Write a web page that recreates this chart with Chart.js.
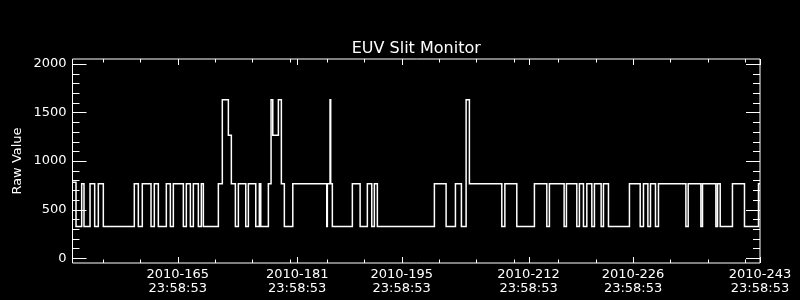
<!DOCTYPE html>
<html>
<head>
<meta charset="utf-8">
<title>EUV Slit Monitor</title>
<script src="https://cdn.jsdelivr.net/npm/chart.js@4"></script>
<style>
  body { margin: 0; background: #000; }
  canvas { display: block; }
</style>
</head>
<body>
<canvas id="euvchart" width="800" height="300"></canvas>
<script>
/* global Chart*/
'use strict';

// switch times (day of year 2010) and the raw value held from each one on
var times = [
  150.90, 151.37, 152.13, 152.44, 153.25, 153.87, 154.36, 155.03, 159.18, 159.72,
  160.25, 161.42, 161.86, 162.40, 163.47, 164.01, 164.41, 165.75, 166.15, 166.69,
  167.09, 167.76, 168.16, 168.43, 170.44, 170.97, 171.78, 172.18, 172.72, 173.12,
  174.11, 174.46, 175.45, 175.93, 176.12, 177.14, 177.50, 177.73, 178.48, 178.88,
  179.28, 180.41, 184.96, 185.04, 185.40, 185.49, 185.71, 188.39, 189.43, 190.40,
  190.99, 191.34, 191.74, 199.38, 200.95, 202.20, 203.00, 203.63, 204.07, 208.41,
  208.82, 210.42, 212.78, 214.44, 214.79, 216.76, 217.07, 218.46, 218.81, 219.35,
  219.80, 220.47, 220.82, 221.72, 222.03, 222.70, 225.51, 226.95, 227.39, 227.98,
  228.33, 229.00, 229.40, 233.07, 233.38, 235.08, 235.30, 237.09, 237.31, 237.67,
  239.31, 240.92, 242.80, 243.00
];
var levels = [
  780, 325, 765, 325, 765, 325, 765, 325, 765, 325,
  765, 325, 765, 325, 765, 325, 765, 325, 765, 325,
  765, 325, 765, 325, 765, 1630, 1265, 765, 325, 765,
  325, 765, 325, 765, 325, 765, 1630, 1265, 1630, 765,
  325, 765, 325, 765, 1630, 765, 325, 765, 325, 765,
  325, 765, 325, 765, 325, 765, 325, 1630, 765, 325,
  765, 325, 765, 325, 765, 325, 765, 325, 765, 325,
  765, 325, 765, 325, 765, 325, 765, 325, 765, 325,
  765, 325, 765, 325, 765, 325, 765, 325, 765, 325,
  765, 325, 765, 765
];

// axis ticks
var dayTicks = [165, 181, 195, 212, 226, 243];
var dayMinorTicks = [155, 160, 170, 175, 180, 185, 190, 200, 205, 210, 216, 221, 231, 236, 241];
var timeLabel = '23:58:53';
var valueTicks = [0, 500, 1000, 1500, 2000];
var valueMinorTicks = [];
for (var v = 0; v <= 2000; v += 100) { valueMinorTicks.push(v); }

var points = times.map(function (t, i) { return { x: t, y: levels[i] }; });

// inward ticks on all four sides, box frame and title
var frame = {
  id: 'frame',
  afterDraw: function (chart) {
    var c = chart.ctx;
    var a = chart.chartArea;
    var xs = chart.scales.x;
    var ys = chart.scales.y;
    c.save();
    c.strokeStyle = '#fff';
    c.lineWidth = 1;
    c.beginPath();
    c.rect(a.left, a.top, a.right - a.left, a.bottom - a.top);
    function xTick(val, len) {
      var p = Math.round(xs.getPixelForValue(val)) + 0.5;
      c.moveTo(p, a.bottom); c.lineTo(p, a.bottom - len);
      c.moveTo(p, a.top); c.lineTo(p, a.top + len);
    }
    function yTick(val, len) {
      var p = Math.round(ys.getPixelForValue(val)) + 0.5;
      c.moveTo(a.left, p); c.lineTo(a.left + len, p);
      c.moveTo(a.right, p); c.lineTo(a.right - len, p);
    }
    dayMinorTicks.forEach(function (d) { xTick(d, 3.5); });
    dayTicks.forEach(function (d) { xTick(d, 6); });
    valueMinorTicks.forEach(function (d) { yTick(d, 7); });
    valueTicks.forEach(function (d) { yTick(d, 14); });
    c.stroke();
    c.fillStyle = '#fff';
    c.font = '16px "DejaVu Sans"';
    c.textAlign = 'center';
    c.textBaseline = 'alphabetic';
    c.fillText('EUV Slit Monitor', (a.left + a.right) / 2, 53);
    c.restore();
  }
};

new Chart(document.getElementById('euvchart'), {
  type: 'line',
  data: {
    datasets: [{
      data: points,
      borderColor: '#fff',
      borderWidth: 1.5,
      pointRadius: 0,
      stepped: true,
      fill: false
    }]
  },
  options: {
    responsive: false,
    animation: false,
    layout: { padding: { top: 59, right: 40, left: 0, bottom: 0 } },
    plugins: { legend: { display: false }, tooltip: { enabled: false } },
    scales: {
      x: {
        type: 'linear',
        min: 150.9,
        max: 243,
        grid: { display: false, drawTicks: false },
        border: { display: false },
        afterBuildTicks: function (s) {
          s.ticks = dayTicks.map(function (d) { return { value: d }; });
        },
        afterFit: function (s) { s.height = 37; },
        ticks: {
          autoSkip: false,
          maxRotation: 0,
          padding: 5,
          color: '#fff',
          font: { family: 'DejaVu Sans', size: 13, lineHeight: 1.05 },
          callback: function (val) { return ['2010-' + val, timeLabel]; }
        }
      },
      y: {
        min: -50,
        max: 2050,
        grid: { display: false, drawTicks: false },
        border: { display: false },
        afterBuildTicks: function (s) {
          s.ticks = valueTicks.map(function (d) { return { value: d }; });
        },
        afterFit: function (s) { s.width = 72.5; },
        ticks: {
          padding: 6,
          color: '#fff',
          font: { family: 'DejaVu Sans', size: 13 },
          callback: function (val) { return String(val); }
        },
        title: {
          display: true,
          text: 'Raw Value',
          color: '#fff',
          padding: { top: 10, bottom: 0 },
          font: { family: 'DejaVu Sans', size: 13 }
        }
      }
    }
  },
  plugins: [frame]
});
</script>
</body>
</html>
